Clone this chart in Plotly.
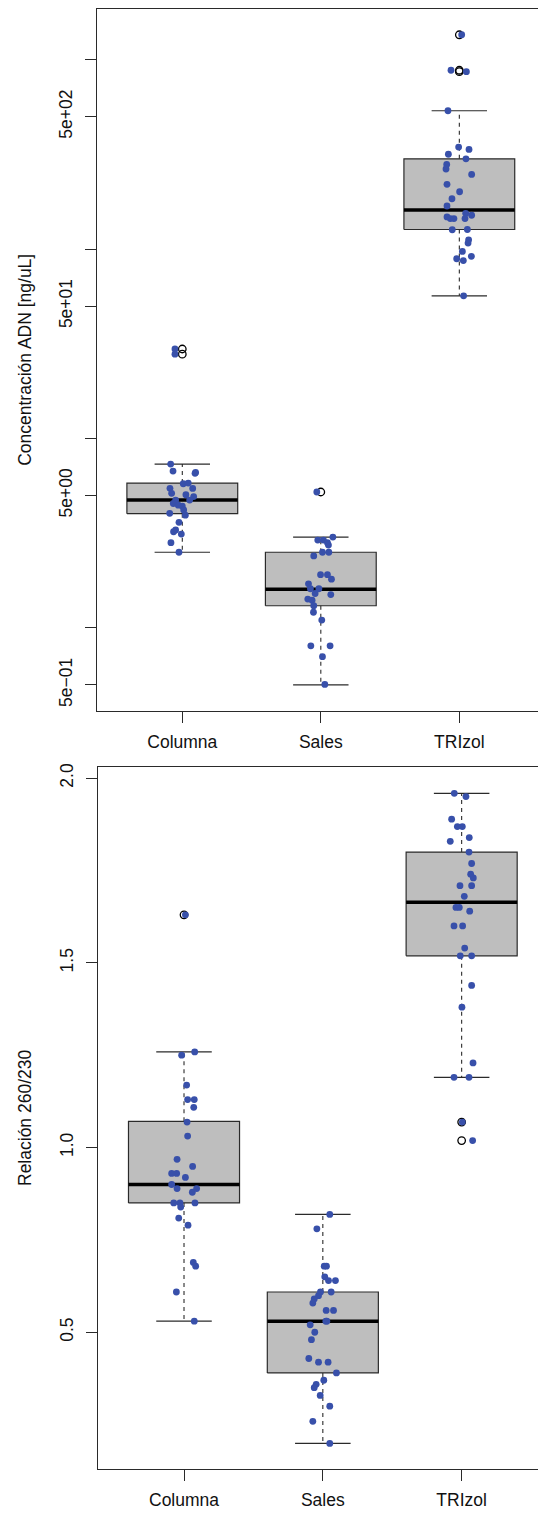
import plotly.graph_objects as go

categories = ["Columna", "Sales", "TRIzol"]

# ---------- Top panel: Concentración ADN [ng/uL] (log scale) ----------
conc_columna = [29.7, 27.9, 7.33, 6.73, 6.62, 6.55, 5.77, 5.82, 5.46, 5.45, 5.14, 5.05, 4.94,
                4.73, 4.73, 4.54, 4.45, 4.40, 4.20, 3.94, 4.03, 3.61, 3.29, 3.22, 3.13, 2.82, 2.51]
conc_columna_jit = [-0.053, -0.053, -0.084, -0.067, 0.096, 0.092, 0.007, 0.043, -0.089, 0.075, -0.077,
                    0.026, 0.082, 0.053, -0.048, -0.065, -0.029, 0.0, 0.010, 0.022, -0.091, -0.024,
                    -0.048, -0.063, -0.007, -0.082, -0.024]
conc_sales = [5.22, 3.02, 2.91, 2.91, 2.82, 2.74, 2.51, 2.51, 2.40, 1.91, 1.91, 1.81, 1.71, 1.61,
              1.61, 1.52, 1.50, 1.42, 1.40, 1.31, 1.21, 1.10, 0.805, 0.805, 0.705, 0.503]
conc_sales_jit = [-0.029, 0.087, -0.022, 0.019, 0.048, 0.055, 0.012, 0.058, -0.051, -0.002, 0.048,
                  0.077, -0.089, -0.075, -0.014, -0.041, 0.072, -0.094, -0.063, -0.051, -0.053,
                  0.007, -0.072, 0.067, 0.012, 0.029]
conc_trizol = [1355, 880, 865, 538, 346, 336, 317, 300, 280, 265, 248, 220, 201, 184.5, 169, 154.5,
               151, 148, 145, 145, 145, 126.6, 127, 112, 107.7, 97.3, 91.6, 89, 87, 56.7]
conc_trizol_jit = [0.017, -0.060, 0.051, -0.082, -0.005, 0.070, -0.079, 0.048, -0.091, -0.096, 0.089,
                   -0.089, 0.002, -0.053, -0.089, 0.046, 0.089, -0.089, -0.065, -0.039, 0.041,
                   -0.051, 0.058, 0.067, 0.063, 0.022, 0.087, -0.019, 0.029, 0.031]

conc_lower = [2.51, 0.50, 56.7]
conc_q1 = [4.01, 1.31, 127]
conc_median = [4.73, 1.60, 161]
conc_q3 = [5.82, 2.51, 300]
conc_upper = [7.33, 3.02, 538]

conc_tickvals = [0.5, 1, 5, 10, 50, 100, 500, 1000]
conc_ticktext = ["5e\u221201", "", "5e+00", "", "5e+01", "", "5e+02", ""]

# ---------- Bottom panel: Relación 260/230 ----------
ratio_columna = [1.63, 1.259, 1.250, 1.169, 1.130, 1.130, 1.109, 1.069, 1.031, 0.968, 0.949, 0.930,
                 0.930, 0.919, 0.900, 0.889, 0.879, 0.889, 0.850, 0.850, 0.850, 0.839, 0.809, 0.790,
                 0.689, 0.679, 0.609, 0.530]
ratio_columna_jit = [0.010, 0.077, -0.017, 0.019, 0.026, 0.074, 0.070, 0.022, 0.026, -0.050, 0.062,
                     -0.089, -0.053, 0.010, -0.089, -0.050, 0.060, 0.091, -0.074, -0.029, 0.079,
                     -0.024, -0.038, 0.029, 0.067, 0.084, -0.055, 0.074]
ratio_sales = [0.819, 0.780, 0.679, 0.679, 0.650, 0.640, 0.640, 0.609, 0.609, 0.599, 0.590, 0.579,
               0.559, 0.559, 0.530, 0.530, 0.520, 0.500, 0.480, 0.429, 0.419, 0.419, 0.390, 0.370,
               0.359, 0.350, 0.329, 0.300, 0.259, 0.199]
ratio_sales_jit = [0.050, -0.043, 0.010, 0.026, 0.014, 0.041, 0.091, -0.017, 0.060, -0.031, -0.062,
                   -0.072, 0.024, 0.077, 0.029, 0.022, -0.091, -0.058, -0.082, -0.101, -0.031, 0.038,
                   0.098, 0.007, -0.048, -0.062, -0.019, 0.050, -0.072, 0.050]
ratio_trizol = [1.959, 1.950, 1.889, 1.869, 1.869, 1.839, 1.829, 1.800, 1.769, 1.740, 1.730, 1.709,
                1.709, 1.680, 1.650, 1.650, 1.640, 1.600, 1.600, 1.540, 1.519, 1.519, 1.439, 1.380,
                1.229, 1.190, 1.190, 1.069, 1.019]
ratio_trizol_jit = [-0.053, 0.031, -0.072, -0.031, 0.005, 0.055, -0.082, 0.053, 0.072, 0.065, 0.084,
                    -0.012, 0.072, 0.019, -0.041, -0.017, 0.058, -0.055, 0.007, 0.022, -0.010, 0.072,
                    0.072, 0.002, 0.082, -0.055, 0.053, 0.005, 0.079]

ratio_lower = [0.530, 0.199, 1.190]
ratio_q1 = [0.850, 0.390, 1.519]
ratio_median = [0.900, 0.530, 1.664]
ratio_q3 = [1.071, 0.609, 1.800]
ratio_upper = [1.259, 0.819, 1.959]

ratio_tickvals = [0.5, 1.0, 1.5, 2.0]
ratio_ticktext = ["0.5", "1.0", "1.5", "2.0"]

# ---------- styles ----------
W, H = 538, 1513
BLUE = "rgb(56,80,170)"
BOXFILL = "#BEBEBE"
LINE = "#2a2a2a"
FONT = "Liberation Sans, Arial, Helvetica, sans-serif"
FS = 17.5
BOXW = 0.4   # half box width
CAPW = 0.2   # half staple width

fig = go.Figure()


def add_panel(xa, ya, values, jits, lower, q1, med, q3, upper):
    for i in range(len(categories)):
        c = i + 1
        # box
        fig.add_trace(go.Scatter(
            x=[c - BOXW, c + BOXW, c + BOXW, c - BOXW, c - BOXW],
            y=[q1[i], q1[i], q3[i], q3[i], q1[i]],
            mode="lines", fill="toself", fillcolor=BOXFILL,
            line=dict(color=LINE, width=1.2), xaxis=xa, yaxis=ya,
            hoverinfo="skip", showlegend=False))
        # whiskers (dashed)
        for a, b in [(q3[i], upper[i]), (q1[i], lower[i])]:
            fig.add_trace(go.Scatter(
                x=[c, c], y=[a, b], mode="lines",
                line=dict(color=LINE, width=1.1, dash="4px,4px"),
                xaxis=xa, yaxis=ya, hoverinfo="skip", showlegend=False))
        # staples
        for v in [upper[i], lower[i]]:
            fig.add_trace(go.Scatter(
                x=[c - CAPW, c + CAPW], y=[v, v], mode="lines",
                line=dict(color=LINE, width=1.2),
                xaxis=xa, yaxis=ya, hoverinfo="skip", showlegend=False))
        # median
        fig.add_trace(go.Scatter(
            x=[c - BOXW, c + BOXW], y=[med[i], med[i]], mode="lines",
            line=dict(color="black", width=3.5),
            xaxis=xa, yaxis=ya, hoverinfo="skip", showlegend=False))
        # outliers (open circles at center)
        outl = [v for v in values[i] if v > upper[i] or v < lower[i]]
        if outl:
            fig.add_trace(go.Scatter(
                x=[c] * len(outl), y=outl, mode="markers",
                marker=dict(symbol="circle-open", size=7.5, color="black",
                            line=dict(width=1.3, color="black")),
                xaxis=xa, yaxis=ya, hoverinfo="skip", showlegend=False))
    # jittered points
    for i in range(len(categories)):
        c = i + 1
        fig.add_trace(go.Scatter(
            x=[c + j for j in jits[i]], y=values[i], mode="markers",
            marker=dict(symbol="circle", size=6.8, color=BLUE),
            xaxis=xa, yaxis=ya, hoverinfo="skip", showlegend=False))


add_panel("x", "y",
          [conc_columna, conc_sales, conc_trizol],
          [conc_columna_jit, conc_sales_jit, conc_trizol_jit],
          conc_lower, conc_q1, conc_median, conc_q3, conc_upper)
add_panel("x2", "y2",
          [ratio_columna, ratio_sales, ratio_trizol],
          [ratio_columna_jit, ratio_sales_jit, ratio_trizol_jit],
          ratio_lower, ratio_q1, ratio_median, ratio_q3, ratio_upper)

axis_common = dict(showline=True, linecolor=LINE, linewidth=1.2, ticks="outside",
                   ticklen=11, tickwidth=1.2, tickcolor=LINE, showgrid=False, zeroline=False,
                   tickfont=dict(family=FONT, size=FS, color="#111"), automargin=False)

top_y0, top_y1 = 710.7, 9.0
bot_y0, bot_y1 = 1469.3, 766.7

fig.update_layout(
    width=W, height=H,
    margin=dict(l=0, r=0, t=0, b=0),
    paper_bgcolor="white", plot_bgcolor="white",
    showlegend=False,
    xaxis=dict(domain=[96.7 / W, 1.0], range=[0.382, 3.568], anchor="y",
               tickvals=[1, 2, 3], ticktext=categories, mirror=True,
               ticklabelstandoff=4, **axis_common),
    yaxis=dict(domain=[1 - top_y0 / H, 1 - top_y1 / H], type="log", range=[-0.437, 3.268],
               anchor="x", tickvals=conc_tickvals, ticktext=conc_ticktext, tickangle=-90,
               ticklabelstandoff=6, **axis_common),
    xaxis2=dict(domain=[98.3 / W, 1.0], range=[0.3826, 3.550], anchor="y2",
                tickvals=[1, 2, 3], ticktext=categories, mirror=True,
                ticklabelstandoff=4, **axis_common),
    yaxis2=dict(domain=[1 - bot_y0 / H, 1 - bot_y1 / H], range=[0.129, 2.031],
                anchor="x2", tickvals=ratio_tickvals, ticktext=ratio_ticktext, tickangle=-90,
                ticklabelstandoff=6, **axis_common),
    annotations=[
        dict(text="Concentración ADN [ng/uL]", xref="paper", yref="paper",
             x=25 / W, y=1 - ((top_y0 + top_y1) / 2) / H, xanchor="center", yanchor="middle",
             textangle=-90, showarrow=False, font=dict(family=FONT, size=FS, color="#111")),
        dict(text="Relación 260/230", xref="paper", yref="paper",
             x=25 / W, y=1 - ((bot_y0 + bot_y1) / 2) / H, xanchor="center", yanchor="middle",
             textangle=-90, showarrow=False, font=dict(family=FONT, size=FS, color="#111")),
    ],
)

fig.write_html("out.html", config={"displayModeBar": False},
               post_script="document.body.style.margin='0';document.body.style.overflow='hidden';")
